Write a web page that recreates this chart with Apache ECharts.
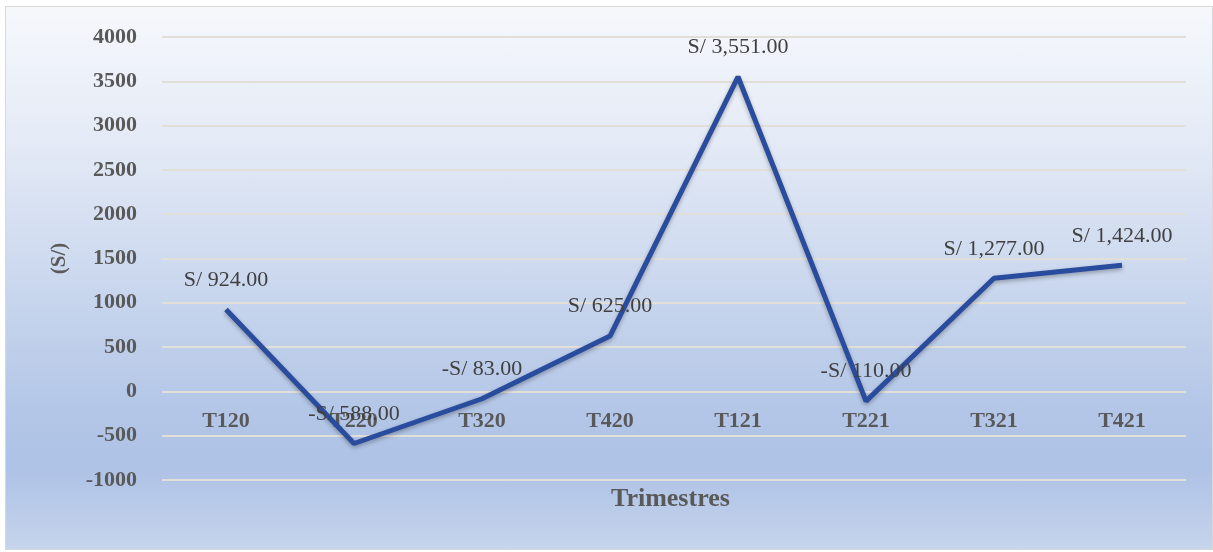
<!DOCTYPE html>
<html>
<head>
<meta charset="utf-8">
<script src="https://cdn.jsdelivr.net/npm/echarts@6/dist/echarts.min.js"></script>
<style>
  html, body { margin: 0; padding: 0; background: #ffffff; }
  #wrap {
    position: absolute; left: 5px; top: 6px; width: 1206px; height: 542px;
    border: 1px solid #d8d8d8;
    background: linear-gradient(to bottom, #f6f8fc 0%, #e4eaf6 25%, #cbd8ee 50%, #b3c6e7 75%, #aec2e6 85%, #c6d4ec 100%);
  }
  #chart { position: absolute; left: 0; top: 0; width: 1213px; height: 552px; }
</style>
</head>
<body>
<div id="wrap"></div>
<div id="chart"></div>
<script>
// Quarterly results in soles
const quarters = ['T120', 'T220', 'T320', 'T420', 'T121', 'T221', 'T321', 'T421'];
const results = [924, -588, -83, 625, 3551, -110, 1277, 1424];
const yTicks = { min: -1000, max: 4000, step: 500 };

const serif = '"Liberation Serif", "DejaVu Serif", serif';

function soles(v) {
  const s = Math.abs(v).toLocaleString('en-US', { minimumFractionDigits: 2, maximumFractionDigits: 2 });
  return (v < 0 ? '-S/ ' : 'S/ ') + s;
}

const grid = { left: 162, right: 27, top: 37, bottom: 72 };
const chartHeight = 552;

const chart = echarts.init(document.getElementById('chart'), null, { renderer: 'canvas' });

// Category labels sit on the zero line: shift the x axis up from the grid bottom to y = 0
const plotH = chartHeight - grid.top - grid.bottom;
const zeroOffset = -plotH * (0 - yTicks.min) / (yTicks.max - yTicks.min);

chart.setOption({
  backgroundColor: 'transparent',
  animation: false,
  grid: grid,
  graphic: [{
    type: 'text', left: 611, top: 486,
    style: { text: 'Trimestres', font: 'bold 26px ' + serif, fill: '#595959' }
  }],
  xAxis: {
    type: 'category',
    data: quarters,
    boundaryGap: true,
    offset: zeroOffset,
    axisLine: { show: false, onZero: false },
    axisTick: { show: false },
    axisLabel: { margin: 19, fontFamily: serif, fontSize: 22, fontWeight: 'bold', color: '#595959' }
  },
  yAxis: {
    type: 'value',
    min: yTicks.min, max: yTicks.max, interval: yTicks.step,
    name: '(S/)',
    nameLocation: 'middle',
    nameGap: 92,
    nameTextStyle: { fontFamily: serif, fontSize: 21, fontWeight: 'bold', color: '#595959' },
    axisLine: { show: false },
    axisTick: { show: false },
    axisLabel: {
      margin: 25, fontFamily: serif, fontSize: 22, fontWeight: 'bold', color: '#595959',
      formatter: v => String(v)
    },
    splitLine: { show: true, lineStyle: { color: '#e2dfd8', width: 2 } }
  },
  series: [{
    type: 'line',
    data: results,
    symbol: 'circle',
    symbolSize: 1,
    showSymbol: true,
    itemStyle: { color: 'rgba(0,0,0,0)', borderWidth: 0 },
    lineStyle: {
      color: '#2a4c9e', width: 5,
      shadowColor: 'rgba(0,0,0,0.3)', shadowBlur: 4, shadowOffsetY: 2
    },
    label: {
      show: true, position: 'top', distance: 18,
      formatter: p => soles(p.value),
      fontFamily: serif, fontSize: 22, color: '#404040'
    },
    labelLayout: { hideOverlap: false }
  }]
});
</script>
</body>
</html>
